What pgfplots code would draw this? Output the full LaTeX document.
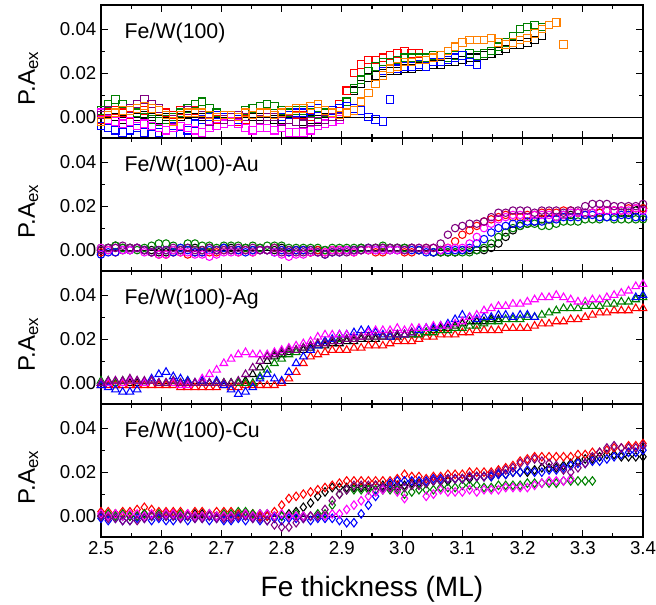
\documentclass[border=0pt]{standalone}
\usepackage{fontspec}
\setmainfont{Liberation Sans}
\usepackage{xcolor}
\usepackage{pgfplots}
\usepackage{pgfplotstable}
\pgfplotsset{compat=1.18}
\definecolor{ored}{HTML}{FF0000}
\definecolor{ogreen}{HTML}{008000}
\definecolor{oblue}{HTML}{0000FF}
\definecolor{omag}{HTML}{FF00FF}
\definecolor{opurple}{HTML}{800080}
\definecolor{oorange}{HTML}{FF8000}

% values in units of 1e-3
\pgfplotstableread{
x k r g b m p o c
2.500 1 -1 3 -4 2 1 -2 nan
2.512 -1 2 6 -5 -1 3 1 nan
2.524 0 3 8 -6 -2 2 2 nan
2.536 -1 2 6 -7 -3 3 3 nan
2.548 -2 1 4 -6 -2 4 3 nan
2.560 0 2 2 -5 -4 6 4 nan
2.572 1 3 0 -7 -3 8 5 nan
2.584 0 4 -1 -8 -4 6 4 nan
2.596 -1 3 -2 -7 -5 4 3 nan
2.608 0 2 -1 -6 -6 1 1 nan
2.620 1 1 0 -4 -5 -1 -2 nan
2.632 0 3 2 -8 -4 1 1 nan
2.644 1 4 4 -6 -5 3 2 nan
2.656 0 3 6 -3 -6 2 2 nan
2.668 0 2 7 -1 -7 1 2 nan
2.680 1 0 4 0 -5 -2 1 nan
2.692 0 -1 2 1 -4 0 0 nan
2.704 1 0 1 0 -3 -1 1 nan
2.716 1 1 0 0 -2 0 1 nan
2.728 0 -2 1 -1 -3 1 0 nan
2.740 -1 -1 3 0 -5 0 2 nan
2.752 0 1 4 1 -6 1 1 nan
2.764 0 2 5 2 -5 -1 2 nan
2.776 0 2 6 2 -5 0 2 nan
2.788 -1 1 5 1 -6 0 1 nan
2.800 -1 0 3 0 -5 -2 2 nan
2.812 -1 2 2 1 -7 -1 3 nan
2.824 -2 1 3 2 -7 -2 4 nan
2.836 -2 1 3 2 -7 -3 4 nan
2.848 -1 0 2 3 -6 -2 5 nan
2.860 -1 1 1 4 -4 -2 6 nan
2.872 0 2 2 3 -3 -1 3 nan
2.884 0 3 2 3 -2 0 2 nan
2.896 1 6 4 4 -1 0 1 nan
2.908 5 12 7 5 nan nan 2 nan
2.920 12 20 13 4 nan nan 3 nan
2.932 15 24 17 3 nan nan 7 nan
2.944 18 26 21 0 nan nan 11 nan
2.956 19 26 23 -1 nan nan 15 nan
2.968 20 27 25 -2 nan nan 19 21
2.980 21 28 25 8 nan nan 22 22
2.992 21 29 26 nan nan nan 23 22
3.004 22 30 27 nan nan nan 25 23
3.016 22 29 27 nan nan nan 25 23
3.028 23 29 27 nan nan nan 26 24
3.040 23 nan 27 nan nan nan 26 23
3.052 24 nan 28 nan nan nan 27 25
3.064 24 nan 28 nan nan nan 28 25
3.076 25 nan 27 nan nan nan 30 26
3.088 25 nan 28 nan nan nan 32 27
3.100 26 nan 28 nan nan nan 34 28
3.112 27 nan 29 nan nan nan 35 25
3.124 27 nan 28 nan nan nan 35 24
3.136 28 nan 29 nan nan nan 35 nan
3.148 29 nan 30 nan nan nan 36 nan
3.160 30 nan 32 nan nan nan 34 nan
3.172 31 nan 34 nan nan nan 33 nan
3.184 33 nan 37 nan nan nan 34 nan
3.196 33 nan 40 nan nan nan 35 nan
3.208 34 nan 41 nan nan nan 36 nan
3.220 35 nan 42 nan nan nan 38 nan
3.232 37 nan 41 nan nan nan 40 nan
3.244 nan nan nan nan nan nan 42 nan
3.256 nan nan nan nan nan nan 43 nan
3.268 nan nan nan nan nan nan 33 nan
}\pa

\pgfplotstableread{
x k r g b m p
2.500 0 -1 1 -2 1 0
2.512 1 0 1 -1 0 1
2.524 2 -1 2 -1 1 1
2.536 1 0 1 0 0 2
2.548 1 0 1 0 0 1
2.560 1 1 0 1 1 1
2.572 0 0 1 0 -1 0
2.584 0 -1 2 -1 -1 -1
2.596 -1 -2 3 0 -2 0
2.608 -1 -2 3 0 -2 0
2.620 0 -1 2 -1 0 1
2.632 0 -1 1 1 -1 0
2.644 1 -2 3 0 -1 1
2.656 1 -1 3 -1 -2 0
2.668 0 -1 2 -1 -2 0
2.680 1 -1 2 0 -3 1
2.692 0 -1 1 0 -2 0
2.704 1 0 2 1 -1 0
2.716 1 0 2 0 -1 0
2.728 0 -1 2 0 -1 1
2.740 1 0 1 -1 0 0
2.752 0 -1 2 0 -1 1
2.764 1 0 1 0 0 0
2.776 0 0 2 0 0 0
2.788 0 1 2 -1 -1 1
2.800 1 0 2 0 -2 -1
2.812 0 -1 1 -1 -3 0
2.824 0 0 1 0 -2 -1
2.836 0 0 1 0 -2 -1
2.848 -1 -1 1 0 -1 0
2.860 0 0 1 -1 -1 -1
2.872 0 -1 0 -2 -1 -2
2.884 0 0 1 -1 0 -1
2.896 0 0 1 -1 0 -1
2.908 0 0 1 0 0 -1
2.920 0 -1 1 0 -1 0
2.932 1 0 1 0 0 0
2.944 0 0 1 1 0 1
2.956 1 -1 1 0 0 1
2.968 1 -1 2 0 0 1
2.980 1 0 1 0 0 1
2.992 1 0 1 0 0 1
3.004 1 -1 1 0 0 0
3.016 1 -1 1 0 1 1
3.028 0 0 0 0 1 1
3.040 0 1 0 -1 0 1
3.052 -1 1 -1 -1 1 1
3.064 -1 0 -1 0 0 3
3.076 -1 1 -1 0 1 7
3.088 -1 4 -1 0 1 10
3.100 0 7 -1 0 1 11
3.112 0 9 -1 1 3 12
3.124 0 11 0 3 6 12
3.136 0 13 1 5 10 13
3.148 1 14 3 8 12 15
3.160 3 15 6 10 14 17
3.172 6 16 8 11 15 17
3.184 9 15 10 12 16 18
3.196 11 15 11 12 16 18
3.208 12 16 12 13 15 18
3.220 13 16 12 13 16 17
3.232 14 17 11 13 16 18
3.244 14 17 11 14 16 18
3.256 15 17 12 14 15 18
3.268 16 18 13 15 16 17
3.280 16 18 13 15 17 18
3.292 17 17 13 15 17 18
3.304 17 16 14 16 17 20
3.316 17 17 14 16 17 21
3.328 17 17 14 15 18 21
3.340 18 18 15 15 18 21
3.352 18 18 14 15 18 20
3.364 17 18 14 16 18 20
3.376 17 19 14 16 18 20
3.388 18 19 14 15 19 20
3.400 19 19 14 15 18 21
}\pb

\pgfplotstableread{
x k r g b m p
2.500 0 -1 1 -1 0 0
2.512 0 -1 1 -2 0 1
2.524 -1 -1 0 -3 1 1
2.536 0 -1 1 -4 0 1
2.548 0 -1 1 -4 1 2
2.560 0 -1 1 -3 1 1
2.572 0 -1 0 0 0 1
2.584 1 -1 1 2 1 1
2.596 0 -1 0 4 0 0
2.608 0 -1 0 5 0 0
2.620 0 -1 1 3 0 1
2.632 0 -2 0 2 -1 0
2.644 0 -2 1 1 -1 0
2.656 0 -2 0 0 0 0
2.668 0 -2 0 1 2 0
2.680 0 -2 0 0 4 0
2.692 0 -2 0 1 6 0
2.704 0 -1 0 -1 9 0
2.716 0 -2 0 -3 11 0
2.728 0 -2 0 -5 13 1
2.740 1 -1 0 -4 14 4
2.752 4 -1 0 -2 13 7
2.764 7 -1 3 2 13 10
2.776 10 -1 6 4 13 12
2.788 12 -1 9 2 14 13
2.800 13 0 11 1 15 14
2.812 14 2 13 5 16 15
2.824 15 5 14 9 17 15
2.836 15 9 16 12 18 16
2.848 16 12 17 15 19 17
2.860 17 13 18 17 21 18
2.872 17 14 19 19 22 18
2.884 18 15 19 20 22 19
2.896 18 15 20 22 22 19
2.908 19 15 20 22 22 20
2.920 19 16 21 23 21 20
2.932 20 16 21 24 21 21
2.944 20 17 21 24 23 21
2.956 20 17 21 23 24 21
2.968 21 17 21 22 24 21
2.980 21 18 22 21 24 22
2.992 21 19 22 22 25 22
3.004 22 19 22 22 24 22
3.016 22 19 22 23 25 23
3.028 22 20 22 24 25 nan
3.040 23 21 23 25 25 nan
3.052 24 21 23 25 26 nan
3.064 25 22 24 26 26 nan
3.076 25 22 24 27 26 nan
3.088 26 22 25 29 27 nan
3.100 27 23 25 31 28 nan
3.112 28 23 26 30 30 nan
3.124 28 24 26 29 31 nan
3.136 28 24 27 30 33 nan
3.148 29 24 28 30 34 nan
3.160 29 24 28 31 35 nan
3.172 nan 25 29 31 35 nan
3.184 nan 25 29 30 36 nan
3.196 nan 25 29 31 36 nan
3.208 nan 25 30 31 37 nan
3.220 nan 26 30 30 38 nan
3.232 nan 27 31 nan 39 nan
3.244 nan 27 32 nan 39 nan
3.256 nan 28 33 nan 40 nan
3.268 nan 28 34 nan 39 nan
3.280 nan 29 34 nan 38 nan
3.292 nan 29 34 nan 37 nan
3.304 nan 30 35 nan 37 nan
3.316 nan 31 35 nan 38 nan
3.328 nan 32 35 nan 38 nan
3.340 nan 32 36 nan 39 nan
3.352 nan 33 36 nan 40 nan
3.364 nan 33 37 nan 41 nan
3.376 nan 33 37 nan 42 nan
3.388 nan 34 38 39 44 nan
3.400 nan 34 39 40 45 nan
}\pc

\pgfplotstableread{
x k r g b m p
2.500 0 2 0 -1 1 0
2.512 0 2 1 -2 0 -1
2.524 1 1 0 -1 1 -1
2.536 0 2 1 -2 0 -2
2.548 0 2 0 -2 1 -2
2.560 0 3 0 -1 1 -2
2.572 1 4 1 -1 0 -1
2.584 0 3 0 -2 1 0
2.596 0 2 1 -1 0 0
2.608 1 2 0 -2 1 0
2.620 1 2 0 -2 1 0
2.632 0 2 1 -1 0 -1
2.644 0 1 0 -2 1 0
2.656 1 2 0 -1 0 -1
2.668 1 2 0 -1 0 -1
2.680 0 1 1 -2 1 0
2.692 0 2 0 -1 0 -1
2.704 0 2 1 -2 0 -1
2.716 0 2 1 -2 0 -1
2.728 0 1 2 -1 0 0
2.740 1 1 2 -2 1 0
2.752 0 1 1 -1 0 -1
2.764 0 0 1 -2 1 -1
2.776 0 0 1 -2 1 -2
2.788 0 2 0 -1 0 -4
2.800 0 5 0 -2 1 -5
2.812 1 8 0 -1 0 -5
2.824 2 9 1 -1 0 -3
2.836 4 10 0 -1 0 -1
2.848 6 11 0 -2 0 0
2.860 9 12 1 -1 0 0
2.872 11 13 1 -1 0 3
2.884 13 14 5 -1 1 7
2.896 13 15 10 -2 1 10
2.908 13 16 12 -3 3 12
2.920 13 16 12 -3 5 14
2.932 13 16 12 1 7 14
2.944 13 16 12 5 9 14
2.956 14 16 12 9 11 14
2.968 14 16 12 13 12 13
2.980 14 16 12 15 13 13
2.992 14 17 12 16 11 13
3.004 14 19 10 16 8 13
3.016 15 18 11 16 nan 14
3.028 15 18 12 16 nan 14
3.040 15 17 12 16 9 15
3.052 16 18 12 17 10 16
3.064 16 18 13 17 12 16
3.076 16 19 13 17 11 17
3.088 17 19 13 17 11 17
3.100 17 19 14 17 11 17
3.112 17 20 14 18 12 18
3.124 18 20 14 18 11 18
3.136 18 20 13 18 12 18
3.148 18 20 13 18 12 19
3.160 19 21 14 19 12 20
3.172 19 22 14 19 13 21
3.184 20 23 14 20 13 22
3.196 20 25 14 20 13 24
3.208 20 26 15 21 13 25
3.220 21 27 15 20 14 26
3.232 22 27 15 20 15 25
3.244 22 27 15 21 16 24
3.256 22 27 15 21 16 23
3.268 23 27 16 22 16 21
3.280 24 27 16 23 17 20
3.292 25 28 16 24 nan 22
3.304 26 28 16 24 nan 24
3.316 26 29 16 25 nan 27
3.328 27 29 nan 25 nan 29
3.340 28 30 nan 26 nan 31
3.352 28 31 nan 27 nan 32
3.364 27 31 nan 28 nan 31
3.376 27 32 nan 29 nan 31
3.388 27 32 nan 29 nan 31
3.400 27 33 nan 30 nan 32
}\pd

\pgfplotsset{
  panel/.style={
    width=406.5pt, height=99.75pt, scale only axis,
    anchor=north west,
    xmin=2.5, xmax=3.4, ymin=-9.5, ymax=51,
    xtick={2.5,2.6,2.7,2.8,2.9,3.0,3.1,3.2,3.3,3.4},
    minor x tick num=1,
    ytick={0,20,40}, minor y tick num=1,
    yticklabels={0.00,0.02,0.04},
    xticklabels={},
    tick align=inside, xtick pos=both, ytick pos=both,
    major tick length=5pt, minor tick length=2.8pt,
    every tick/.style={black, line width=0.8pt},
    axis line style={line width=1.1pt},
    tick label style={font=\fontsize{14}{16}\selectfont},
    ylabel={P.A\textsubscript{ex}},
    ylabel style={font=\fontsize{18}{20}\selectfont, at={(axis description cs:-0.115,0.45)}, anchor=south, inner sep=0pt},
    every axis plot/.append style={only marks, mark options={line width=0.8pt, fill=none}},
  },
}
\newcommand{\zeroline}{\addplot[black, line width=0.6pt, mark=none, sharp plot] coordinates {(2.5,0) (3.4,0)};}
\newcommand{\plabel}[1]{\node[anchor=base west, font=\fontsize{16}{18}\selectfont] at (rel axis cs:0.035,0.75) {#1};}

\begin{document}
\begin{tikzpicture}
\path[use as bounding box] (-75.75pt,3.75pt) rectangle (416.25pt,-450pt);

\begin{axis}[panel, at={(0pt,0pt)}]
\zeroline
\addplot[black, mark=square, mark size=2.8pt] table[x=x,y=k]{\pa};
\addplot[ored, mark=square, mark size=2.8pt] table[x=x,y=r]{\pa};
\addplot[ogreen, mark=square, mark size=2.8pt] table[x=x,y=g]{\pa};
\addplot[oblue, mark=square, mark size=2.8pt] table[x=x,y=b]{\pa};
\addplot[oblue, mark=square, mark size=2.8pt] table[x=x,y=c]{\pa};
\addplot[omag, mark=square, mark size=2.8pt] table[x=x,y=m]{\pa};
\addplot[opurple, mark=square, mark size=2.8pt] table[x=x,y=p]{\pa};
\addplot[oorange, mark=square, mark size=2.8pt] table[x=x,y=o]{\pa};
\plabel{Fe/W(100)}
\end{axis}

\begin{axis}[panel, at={(0pt,-99.75pt)}]
\zeroline
\addplot[black, mark=o, mark size=2.8pt] table[x=x,y=k]{\pb};
\addplot[ored, mark=o, mark size=2.8pt] table[x=x,y=r]{\pb};
\addplot[ogreen, mark=o, mark size=2.8pt] table[x=x,y=g]{\pb};
\addplot[oblue, mark=o, mark size=2.8pt] table[x=x,y=b]{\pb};
\addplot[omag, mark=o, mark size=2.8pt] table[x=x,y=m]{\pb};
\addplot[opurple, mark=o, mark size=2.8pt] table[x=x,y=p]{\pb};
\plabel{Fe/W(100)-Au}
\end{axis}

\begin{axis}[panel, at={(0pt,-199.5pt)}]
\zeroline
\addplot[black, mark=triangle, mark size=3.3pt] table[x=x,y=k]{\pc};
\addplot[ored, mark=triangle, mark size=3.3pt] table[x=x,y=r]{\pc};
\addplot[ogreen, mark=triangle, mark size=3.3pt] table[x=x,y=g]{\pc};
\addplot[oblue, mark=triangle, mark size=3.3pt] table[x=x,y=b]{\pc};
\addplot[omag, mark=triangle, mark size=3.3pt] table[x=x,y=m]{\pc};
\addplot[opurple, mark=triangle, mark size=3.3pt] table[x=x,y=p]{\pc};
\plabel{Fe/W(100)-Ag}
\end{axis}

\begin{axis}[panel, at={(0pt,-299.25pt)},
  xticklabels={2.5,2.6,2.7,2.8,2.9,3.0,3.1,3.2,3.3,3.4},
  xlabel={Fe thickness (ML)},
  xlabel style={font=\fontsize{21}{24}\selectfont, at={(axis description cs:0.5,-0.39)}, anchor=center}]
\zeroline
\addplot[black, mark=diamond, mark size=3.2pt] table[x=x,y=k]{\pd};
\addplot[ored, mark=diamond, mark size=3.2pt] table[x=x,y=r]{\pd};
\addplot[ogreen, mark=diamond, mark size=3.2pt] table[x=x,y=g]{\pd};
\addplot[oblue, mark=diamond, mark size=3.2pt] table[x=x,y=b]{\pd};
\addplot[omag, mark=diamond, mark size=3.2pt] table[x=x,y=m]{\pd};
\addplot[opurple, mark=diamond, mark size=3.2pt] table[x=x,y=p]{\pd};
\plabel{Fe/W(100)-Cu}
\end{axis}
\end{tikzpicture}
\end{document}
